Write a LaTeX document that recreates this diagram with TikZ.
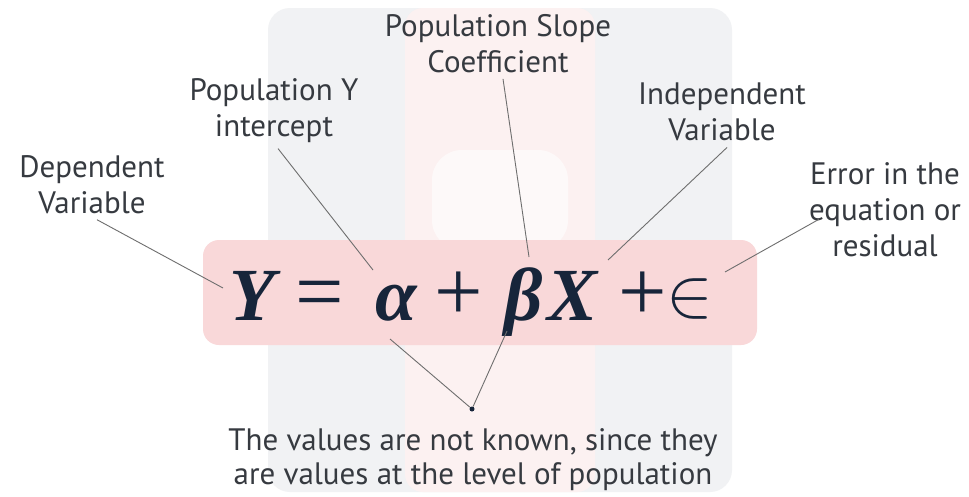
\documentclass[tikz,border=0pt]{standalone}
\usepackage{graphicx}
\usepackage{fontspec}
\setmainfont{PT Sans}
\newfontfamily\eqfont{Liberation Serif}[BoldItalicFont={* Bold Italic}]
\newfontfamily\opfont{Liberation Serif}
\usetikzlibrary{calc}
\definecolor{boxpink}{HTML}{F9D8D9}
\definecolor{wmgrey}{HTML}{F1F2F4}
\definecolor{wmpink}{HTML}{FCF1F1}
\definecolor{txt}{HTML}{363A40}
\definecolor{lnc}{HTML}{6E6E6E}
\definecolor{eqc}{HTML}{17253A}
\newcommand{\elemof}{\scalebox{7}{\fontsize{10}{12}\selectfont$\in$}}
\tikzset{
  lbl/.style={align=center, anchor=north, inner sep=4pt, text=txt,
    font=\fontsize{31}{36}\selectfont},
  eqsym/.style={anchor=base, inner sep=0pt, text=eqc,
    font=\eqfont\bfseries\itshape\fontsize{75}{75}\selectfont},
  eqop/.style={anchor=base, inner sep=0pt, text=eqc,
    font=\opfont\fontsize{86}{86}\selectfont},
  conn/.style={draw=lnc, line width=0.9pt},
  jdot/.style={circle, fill=eqc, inner sep=0pt, minimum size=5pt}
}
\begin{document}
\begin{tikzpicture}[x=1pt,y=-1pt]
\useasboundingbox (0,0) rectangle (969,496);
\fill[white] (0,0) rectangle (969,496);
% faint watermark
\fill[wmgrey, rounded corners=22pt] (268,8) rectangle (732,492);
\fill[wmpink, rounded corners=18pt] (405,8) rectangle (595,492);
\fill[white, opacity=0.6, rounded corners=30pt] (432,150) rectangle (568,250);
% pink band behind the equation
\fill[boxpink, rounded corners=16pt] (203,240) rectangle (757,345);
% equation
\node[eqsym] (Y) at (252,320) {Y};
\node[eqop] (eq) at (320,320) {=};
\node[eqsym] (alpha) at (396,320) {α};
\node[eqop] (plusa) at (459,320) {+};
\node[eqsym] (beta) at (524,320) {β};
\node[eqsym] (X) at (573,320) {X};
\node[eqop] (plusb) at (643,320) {+};
\node[eqop] (in) at (690,316) {\elemof};
% anchor points on the equation
\coordinate (pY) at (223,288);
\coordinate (pA) at (373,270);
\coordinate (pB) at (529,257);
\coordinate (pX) at (608,260);
\coordinate (pE) at (725,272);
\coordinate (qA) at (390,339);
\coordinate (qB) at (507,331);
% labels
\node[lbl] (dep) at (92,151) {Dependent\\Variable};
\node[lbl] (icp) at (274,74) {Population Y\\intercept};
\node[lbl] (slp) at (498,10) {Population Slope\\Coefficient};
\node[lbl] (ind) at (722,79) {Independent\\Variable};
\node[lbl] (err) at (885,158) {Error in the\\equation or\\residual};
\node[lbl, font=\fontsize{31}{34}\selectfont] (note) at (473,424)
  {The values are not known, since they\\are values at the level of population};
\node[jdot] (dot) at (472,409) {};
% connectors
\draw[conn] ([xshift=5pt,yshift=-2pt]dep.south) -- (pY);
\draw[conn] ([xshift=4pt,yshift=-2pt]icp.south) -- (pA);
\draw[conn] ([xshift=5pt,yshift=-2pt]slp.south) -- (pB);
\draw[conn] ([xshift=5pt,yshift=-2pt]ind.south) -- (pX);
\draw[conn] ([xshift=14pt,yshift=-10pt]err.west) -- (pE);
\draw[conn] (qA) -- (dot);
\draw[conn] (qB) -- (dot);
\end{tikzpicture}
\end{document}
